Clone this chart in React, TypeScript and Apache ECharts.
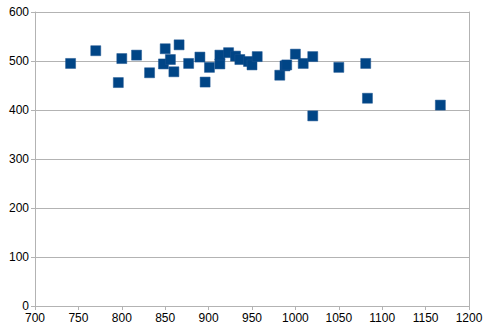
import React, { useEffect, useRef } from "react";
import * as echarts from "echarts";

const xValues = [741, 770, 796, 800, 817, 832, 850, 848, 856, 860, 866, 877, 890, 896, 901, 913, 913, 923, 931, 936, 946, 950, 956, 982, 988, 990, 1000, 1009, 1020, 1020, 1050, 1081, 1083, 1167];
const yValues = [495, 521, 456, 505, 512, 476, 525, 494, 503, 478, 533, 495, 508, 457, 487, 494, 512, 517, 510, 503, 499, 492, 509, 471, 490, 492, 514, 495, 509, 388, 487, 495, 424, 410];

export default function App() {
  const ref = useRef<HTMLDivElement>(null);
  useEffect(() => {
    if (!ref.current) return;
    const chart = echarts.init(ref.current, null, { renderer: "svg" });
    const data = xValues.map((x, i) => [x, yValues[i]]);
    const font = { fontFamily: "Liberation Sans", fontSize: 12, color: "#000" };
    chart.setOption({
      animation: false,
      grid: { left: 35, right: 18, top: 12, bottom: 29 },
      xAxis: {
        type: "value",
        min: 700,
        max: 1200,
        interval: 50,
        axisLine: { show: true, lineStyle: { color: "#b3b3b3" } },
        axisTick: { show: true, length: 4, lineStyle: { color: "#b3b3b3" } },
        axisLabel: { ...font, margin: 6, formatter: (v: number) => String(v) },
        splitLine: { show: false },
      },
      yAxis: [
        {
          type: "value",
          min: 0,
          max: 600,
          interval: 100,
          axisLine: { show: true, lineStyle: { color: "#b3b3b3" } },
          axisTick: { show: true, length: 4, lineStyle: { color: "#b3b3b3" } },
          axisLabel: { ...font, margin: 6, formatter: (v: number) => String(v) },
          splitLine: { show: true, lineStyle: { color: "#b3b3b3" } },
        },
        {
          type: "value",
          min: 0,
          max: 600,
          interval: 100,
          position: "right",
          axisLine: { show: true, lineStyle: { color: "#b3b3b3" } },
          axisTick: { show: false },
          axisLabel: { show: false },
          splitLine: { show: false },
        },
      ],
      series: [
        {
          type: "scatter",
          data,
          symbol: "rect",
          symbolSize: 10,
          itemStyle: { color: "#004586", opacity: 1, borderColor: "#1d5590", borderWidth: 0.5 },
        },
      ],
    });
    return () => chart.dispose();
  }, []);
  return <div ref={ref} style={{ width: 487, height: 335, position: "absolute", left: 0, top: 0, background: "#fff" }} />;
}
